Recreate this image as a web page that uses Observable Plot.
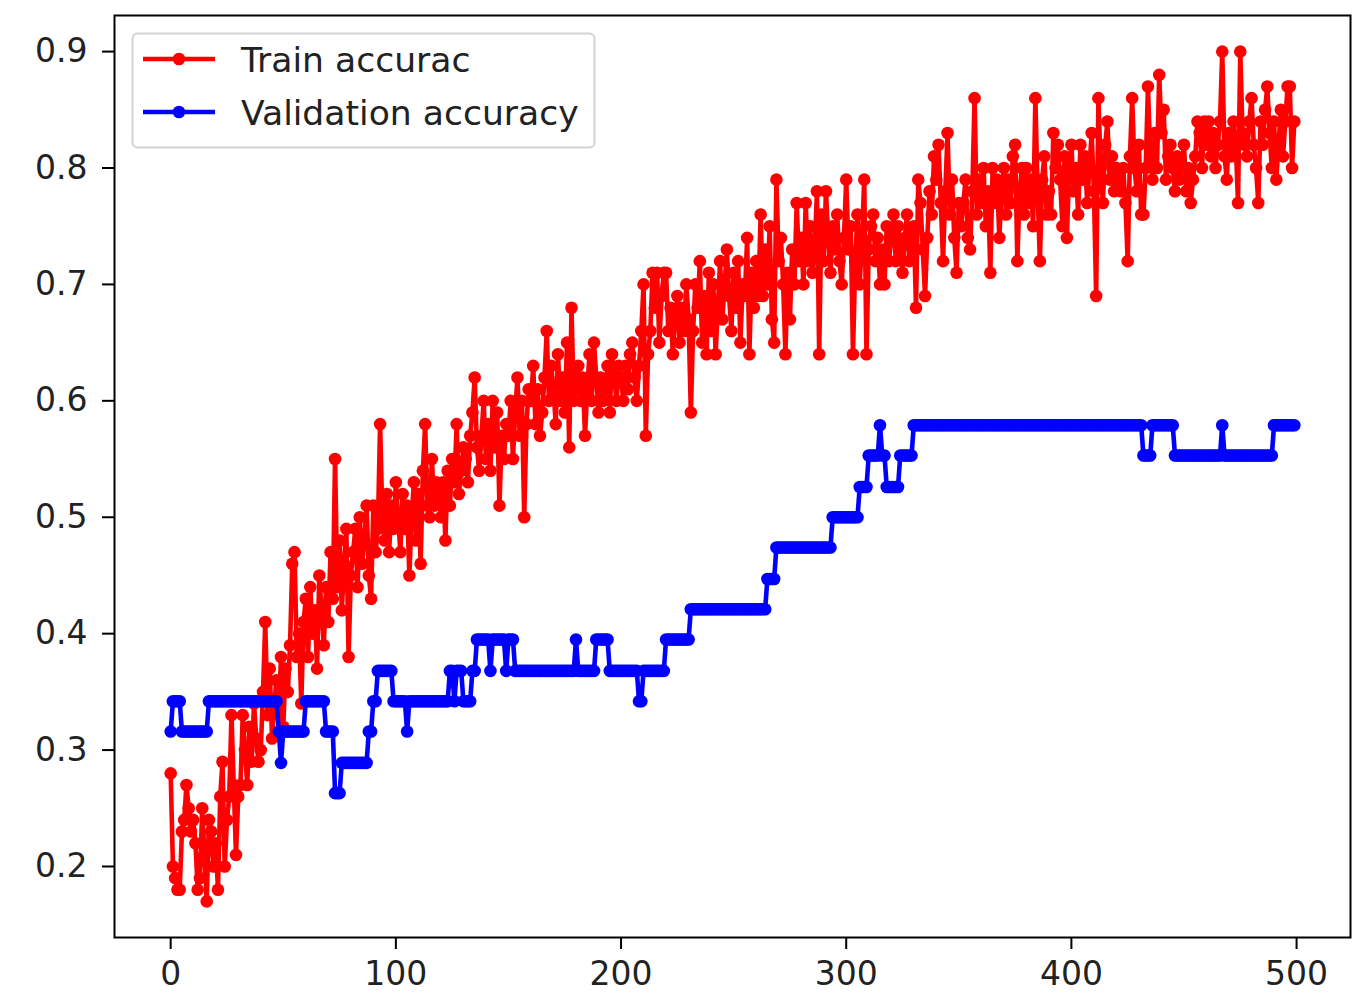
<!DOCTYPE html>
<html>
<head>
<meta charset="utf-8">
<script src="https://cdn.jsdelivr.net/npm/d3@7"></script>
<script src="https://cdn.jsdelivr.net/npm/@observablehq/plot@0.6"></script>
<style>
  html, body { margin: 0; padding: 0; background: #fff; }
  #chart svg { display: block; }
</style>
</head>
<body>
<div id="chart"></div>
<script>
// ---- Data ----
const seriesNames = ["Train accurac", "Validation accuracy"];
const seriesColors = ["#ff0000", "#0000ff"];

// Train accuracy per epoch (0..499), 10 values per row
const trainAcc = [
  .28,.20,.19,.18,.18,.23,.24,.27,.25,.23,
  .24,.22,.18,.19,.25,.21,.17,.24,.23,.20,
  .22,.18,.26,.29,.20,.24,.26,.33,.27,.21,
  .26,.27,.33,.30,.27,.32,.29,.34,.31,.29,
  .30,.35,.41,.33,.37,.31,.34,.36,.33,.38,
  .32,.37,.35,.39,.46,.47,.38,.40,.34,.41,
  .43,.38,.44,.40,.42,.37,.45,.42,.39,.44,
  .41,.47,.43,.55,.44,.48,.42,.46,.49,.38,
  .45,.47,.49,.44,.50,.46,.48,.51,.45,.43,
  .51,.47,.49,.58,.50,.48,.52,.47,.51,.49,
  .53,.50,.47,.52,.49,.51,.45,.50,.53,.48,
  .52,.46,.54,.58,.51,.50,.55,.51,.53,.52,
  .50,.53,.48,.54,.51,.55,.53,.58,.52,.54,
  .56,.55,.53,.57,.59,.62,.56,.54,.57,.60,
  .55,.58,.54,.60,.56,.59,.51,.57,.55,.58,
  .57,.60,.55,.59,.62,.57,.60,.50,.58,.61,
  .60,.63,.58,.61,.57,.59,.62,.66,.60,.63,
  .61,.58,.64,.60,.62,.59,.65,.56,.68,.60,
  .61,.63,.60,.62,.57,.61,.64,.60,.65,.62,
  .59,.62,.60,.61,.63,.59,.64,.62,.60,.63,
  .62,.60,.63,.61,.64,.65,.62,.60,.63,.66,
  .70,.57,.64,.66,.71,.68,.71,.65,.69,.71,
  .71,.66,.68,.64,.67,.69,.65,.68,.66,.70,
  .67,.59,.66,.70,.68,.72,.65,.69,.64,.71,
  .66,.70,.64,.68,.72,.67,.70,.73,.69,.66,
  .71,.68,.72,.65,.70,.69,.74,.64,.71,.68,
  .72,.69,.76,.69,.73,.70,.75,.67,.65,.79,
  .72,.74,.70,.64,.71,.67,.73,.70,.77,.72,
  .74,.70,.77,.72,.75,.71,.73,.78,.64,.76,
  .72,.78,.74,.71,.75,.73,.76,.72,.70,.74,
  .79,.73,.75,.64,.72,.76,.70,.74,.79,.64,
  .73,.75,.76,.72,.74,.70,.73,.70,.75,.72,
  .74,.76,.72,.75,.73,.71,.74,.76,.72,.74,
  .75,.68,.79,.77,.73,.69,.74,.78,.76,.81,
  .79,.82,.77,.72,.78,.83,.76,.79,.74,.71,
  .77,.75,.77,.79,.74,.73,.78,.86,.76,.79,
  .77,.80,.75,.78,.71,.80,.77,.79,.74,.78,
  .80,.76,.79,.77,.81,.82,.72,.78,.80,.76,
  .80,.77,.79,.75,.86,.78,.72,.79,.81,.76,
  .78,.76,.83,.80,.82,.79,.75,.81,.74,.80,
  .82,.78,.80,.76,.82,.79,.81,.77,.80,.83,
  .78,.69,.86,.80,.77,.82,.84,.79,.81,.78,
  .80,.79,.78,.80,.77,.72,.81,.86,.80,.78,
  .82,.76,.76,.80,.87,.81,.79,.83,.80,.88,
  .83,.85,.79,.81,.82,.80,.78,.81,.79,.80,
  .82,.78,.80,.77,.79,.81,.84,.83,.80,.84,
  .82,.84,.81,.83,.80,.82,.84,.90,.81,.79,
  .83,.81,.84,.82,.77,.90,.83,.82,.81,.84,
  .86,.82,.80,.77,.84,.82,.85,.87,.83,.80,
  .84,.79,.82,.85,.81,.84,.87,.87,.80,.84
];

// Validation accuracy: epoch at which each level starts, and the level held from there
const valStartEpoch = [0,1,5,17,48,49,50,60,69,73,76,88,90,92,99,105,106,124,126,127,
  130,134,136,142,143,149,150,153,180,181,189,195,208,210,220,231,265,269,294,306,
  310,315,316,318,324,330,432,436,446,467,468,490];
const valLevel = [0.316,0.342,0.316,0.342,0.316,0.289,0.316,0.342,0.316,0.263,
  0.289,0.316,0.342,0.368,0.342,0.316,0.342,0.368,0.342,0.368,
  0.342,0.368,0.395,0.368,0.395,0.368,0.395,0.368,0.395,0.368,
  0.395,0.368,0.342,0.368,0.395,0.421,0.447,0.474,0.500,0.526,
  0.553,0.579,0.553,0.526,0.553,0.579,0.553,0.579,0.553,0.579,
  0.553,0.579];
const nEpochs = 500;

const xTicks = [0, 100, 200, 300, 400, 500];
const yTicks = [0.2, 0.3, 0.4, 0.5, 0.6, 0.7, 0.8, 0.9];

// ---- Build tables ----
const train = trainAcc.map((v, i) => ({epoch: i, acc: v}));
const val = d3.range(nEpochs).map(e => ({
  epoch: e,
  acc: valLevel[d3.bisectRight(valStartEpoch, e) - 1]
}));

const FONT = "DejaVu Sans, sans-serif";
const FS = 33;
const LFS = 34.6;
const LW = 4.6;
const R = 6.3;

const chart = Plot.plot({
  width: 1372,
  height: 994,
  marginLeft: 114,
  marginRight: 22,
  marginTop: 15,
  marginBottom: 57,
  style: {fontFamily: FONT, background: "#fff"},
  x: {domain: [-24.95, 523.95]},
  y: {domain: [0.139, 0.931]},
  marks: [
    Plot.lineY(train, {x: "epoch", y: "acc", stroke: seriesColors[0], strokeWidth: LW}),
    Plot.dot(train, {x: "epoch", y: "acc", fill: seriesColors[0], r: R, stroke: "none"}),
    Plot.lineY(val, {x: "epoch", y: "acc", stroke: seriesColors[1], strokeWidth: LW}),
    Plot.dot(val, {x: "epoch", y: "acc", fill: seriesColors[1], r: R, stroke: "none"}),
    Plot.frame({stroke: "#000", strokeWidth: 2}),
    Plot.axisX({ticks: xTicks, tickSize: 12, tickPadding: 12, fontSize: FS, label: null,
      tickFormat: d3.format("d"), stroke: "#000", strokeWidth: 2, fill: "#222"}),
    Plot.axisY({ticks: yTicks, tickSize: 12, tickPadding: 15, fontSize: FS, label: null,
      tickFormat: d3.format(".1f"), stroke: "#000", strokeWidth: 2, fill: "#222"})
  ]
});

document.getElementById("chart").appendChild(chart);

// ---- Legend (upper left, inside the axes) ----
const svg = d3.select(chart);
const lg = svg.append("g").attr("font-family", FONT).attr("text-anchor", "start");
lg.append("rect")
  .attr("x", 132.5).attr("y", 33.5).attr("width", 462).attr("height", 114)
  .attr("rx", 5).attr("fill", "#fff").attr("fill-opacity", 0.8)
  .attr("stroke", "#d3d3d3").attr("stroke-width", 2);
const rows = [59, 112];
seriesNames.forEach((name, i) => {
  lg.append("line").attr("x1", 143).attr("x2", 215).attr("y1", rows[i]).attr("y2", rows[i])
    .attr("stroke", seriesColors[i]).attr("stroke-width", LW);
  lg.append("circle").attr("cx", 179).attr("cy", rows[i]).attr("r", R).attr("fill", seriesColors[i]);
  lg.append("text").attr("x", 241).attr("y", rows[i] + 13).attr("font-size", LFS)
    .attr("text-anchor", "start").attr("fill", "#222").text(name);
});
</script>
</body>
</html>
